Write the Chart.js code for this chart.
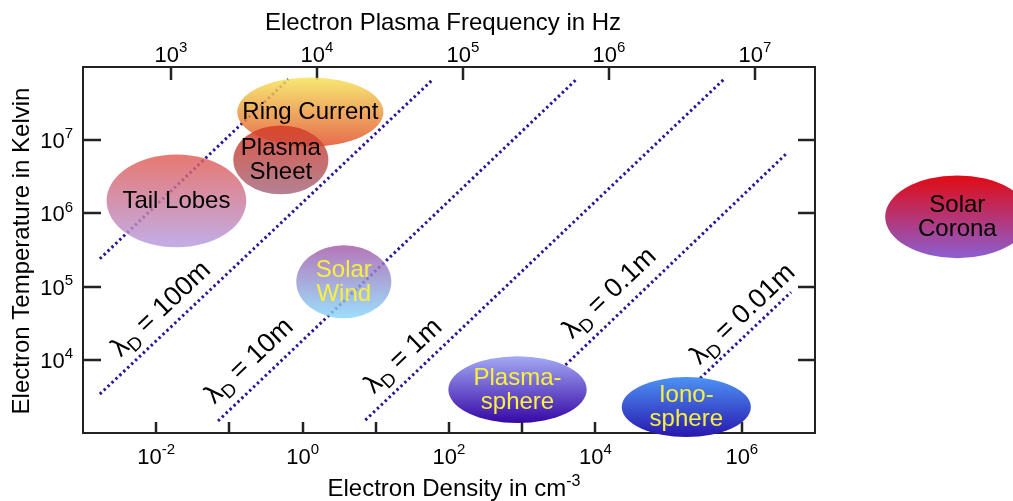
<!DOCTYPE html>
<html>
<head>
<meta charset="utf-8">
<script src="https://cdn.jsdelivr.net/npm/chart.js@4.4.0/dist/chart.umd.min.js"></script>
<style>
  html, body { margin: 0; padding: 0; background: #fff; }
  #wrap { width: 1013px; height: 501px; }
</style>
</head>
<body>
<div id="wrap"><canvas id="plasmaChart" width="1013" height="501"></canvas></div>
<script>
// ---- axis ranges / ticks ----
const densityRange = [1e-3, 1e7];          // cm^-3
const tempRange = [1e3, 1e8];              // K
const freqRange = [250, 2.58e7];           // Hz (top axis)
const densityTicks = [1e-2, 1e-1, 1e0, 1e1, 1e2, 1e3, 1e4, 1e5, 1e6];
const densityLabels = ['-2', '0', '2', '4', '6'];
const tempTicks = [1e4, 1e5, 1e6, 1e7];
const tempLabels = ['4', '5', '6', '7'];
const freqTicks = [1e3, 1e4, 1e5, 1e6, 1e7];
const freqLabels = ['3', '4', '5', '6', '7'];

// ---- Debye length lines (endpoints) ----
const lineStartDensity = [1.7e-3, 1.7e-3, 0.070, 7.2, 3.9e3, 2.7e5];
const lineStartTemp    = [2.4e5, 3.4e3, 1.46e3, 1.5e3, 8.5e3, 5.6e3];
const lineEndDensity   = [0.64, 57.7, 5.7e3, 5.7e5, 4.1e6, 4.7e6];
const lineEndTemp      = [6.8e7, 6.5e7, 7.0e7, 6.8e7, 6.6e6, 8.4e4];

// ---- line labels ----
const lambdaLabels = ['100m', '10m', '1m', '0.1m', '0.01m'];
const lambdaLine = [1, 2, 3, 4, 5];
const labelDensity = [1.13e-2, 0.181, 23.1, 1.52e4, 1.0e6];
const labelTemp = [5.07e4, 9.9e3, 1.16e4, 8.4e4, 4.34e4];

// ---- plasma regions ----
const regionNames = ['Tail Lobes', 'Ring Current', 'Plasma\nSheet', 'Solar\nWind', 'Plasma-\nsphere', 'Iono-\nsphere', 'Solar\nCorona'];
const densityMin = [2.1e-3, 0.128, 0.113, 0.82, 98, 2.29e4, 9.1e7];
const densityMax = [0.17, 12.7, 2.25, 16.3, 7.6e3, 1.33e6, 8.5e9];
const tempMin = [3.44e5, 8.2e6, 1.82e6, 3.7e4, 1.37e3, 880, 2.44e5];
const tempMax = [6.4e6, 7.2e7, 1.59e7, 3.67e5, 1.12e4, 5.8e3, 3.3e6];

const regionTop    = ['#e25b52', '#f6e45a', '#d83a22', '#a459a9', '#a3aaf4', '#4d92f4', '#e10a12'];
const regionBottom = ['#b49be2', '#e3522e', '#a66b82', '#86d6fa', '#3607a6', '#2817ae', '#8b5fd2'];
const regionAlpha  = [0.82, 0.85, 0.85, 0.82, 1, 1, 1];
const regionText   = ['#000', '#000', '#000', '#f8f040', '#f8f040', '#f8f040', '#000'];

const FONT = '"Liberation Sans", Arial, Helvetica, sans-serif';

// draws a run of text pieces [{t, size, rise}] at x,y
function drawRich(ctx, segs, x, y, align, rot) {
    ctx.save();
    ctx.translate(x, y);
    ctx.rotate(rot || 0);
    let w = 0;
    segs.forEach(s => { ctx.font = s.size + 'px ' + FONT; s.w = ctx.measureText(s.t).width; w += s.w; });
    let cx = align === 'center' ? -w / 2 : align === 'right' ? -w : 0;
    ctx.textAlign = 'left';
    ctx.textBaseline = 'alphabetic';
    segs.forEach(s => {
        ctx.font = s.size + 'px ' + FONT;
        ctx.fillText(s.t, cx, -(s.rise || 0));
        cx += s.w;
    });
    ctx.restore();
}

function pow10(exp, size) {
    return [{ t: '10', size: size }, { t: exp, size: Math.round(size * 0.7), rise: size * 0.45 }];
}

const plasmaPlugin = {
    id: 'plasmaDecor',
    afterDatasetsDraw(chart) {
        const ctx = chart.ctx;
        const a = chart.chartArea;
        const xs = chart.scales.x, ys = chart.scales.y, fs = chart.scales.x2;

        // frame
        ctx.save();
        ctx.strokeStyle = '#222';
        ctx.lineWidth = 2;
        ctx.strokeRect(a.left, a.top, a.right - a.left, a.bottom - a.top);

        // ticks
        ctx.lineWidth = 2.5;
        ctx.beginPath();
        densityTicks.forEach(v => {
            const px = Math.round(xs.getPixelForValue(v));
            ctx.moveTo(px, a.bottom); ctx.lineTo(px, a.bottom - 11);
        });
        freqTicks.forEach(v => {
            const px = Math.round(fs.getPixelForValue(v));
            ctx.moveTo(px, a.top); ctx.lineTo(px, a.top + 13);
        });
        tempTicks.forEach(v => {
            const py = Math.round(ys.getPixelForValue(v));
            ctx.moveTo(a.left, py); ctx.lineTo(a.left + 18, py);
            ctx.moveTo(a.right, py); ctx.lineTo(a.right - 17, py);
        });
        ctx.stroke();

        // tick labels
        ctx.fillStyle = '#000';
        densityLabels.forEach(e => {
            drawRich(ctx, pow10(e, 22), xs.getPixelForValue(Math.pow(10, +e)), a.bottom + 31, 'center');
        });
        freqLabels.forEach((e, i) => {
            drawRich(ctx, pow10(e, 22), fs.getPixelForValue(freqTicks[i]), a.top - 5, 'center');
        });
        tempLabels.forEach((e, i) => {
            drawRich(ctx, pow10(e, 22), a.left - 10, ys.getPixelForValue(tempTicks[i]) + 8, 'right');
        });

        // axis titles
        drawRich(ctx, [{ t: 'Electron Plasma Frequency in Hz', size: 24 }], 443, 30, 'center');
        drawRich(ctx, [{ t: 'Electron Density in cm', size: 24 }, { t: '-3', size: 16, rise: 10 }], 454, 496, 'center');
        drawRich(ctx, [{ t: 'Electron Temperature in Kelvin', size: 24 }], 29, 251, 'center', -Math.PI / 2);

        // Debye labels, parallel to their lines
        lambdaLabels.forEach((lab, i) => {
            const li = lambdaLine[i];
            const x1 = xs.getPixelForValue(lineStartDensity[li]), y1 = ys.getPixelForValue(lineStartTemp[li]);
            const x2 = xs.getPixelForValue(lineEndDensity[li]), y2 = ys.getPixelForValue(lineEndTemp[li]);
            const rot = Math.atan2(y2 - y1, x2 - x1);
            const px = xs.getPixelForValue(labelDensity[i]), py = ys.getPixelForValue(labelTemp[i]);
            drawRich(ctx, [{ t: '\u03bb', size: 27 }, { t: 'D', size: 19, rise: -6 }, { t: ' = ' + lab, size: 27 }],
                px + 9 * Math.sin(-rot), py + 9 * Math.cos(rot), 'center', rot);
        });

        // regions
        regionNames.forEach((name, i) => {
            const x1 = xs.getPixelForValue(densityMin[i]), x2 = xs.getPixelForValue(densityMax[i]);
            const y1 = ys.getPixelForValue(tempMax[i]), y2 = ys.getPixelForValue(tempMin[i]);
            const cx = (x1 + x2) / 2, cy = (y1 + y2) / 2;
            const g = ctx.createLinearGradient(0, y1, 0, y2);
            g.addColorStop(0, regionTop[i]);
            g.addColorStop(1, regionBottom[i]);
            ctx.globalAlpha = regionAlpha[i];
            ctx.fillStyle = g;
            ctx.beginPath();
            ctx.ellipse(cx, cy, (x2 - x1) / 2, (y2 - y1) / 2, 0, 0, Math.PI * 2);
            ctx.fill();
            ctx.globalAlpha = 1;
            ctx.fillStyle = regionText[i];
            const lines = name.split('\n');
            const lh = 24;
            lines.forEach((ln, k) => {
                const ty = cy + 7 + (k - (lines.length - 1) / 2) * lh;
                drawRich(ctx, [{ t: ln, size: 24 }], cx, ty, 'center');
            });
        });
        ctx.restore();
    }
};

const datasets = lineStartDensity.map((n, i) => ({
    label: 'line' + i,
    data: [{ x: n, y: lineStartTemp[i] }, { x: lineEndDensity[i], y: lineEndTemp[i] }],
    showLine: true,
    borderColor: '#2a1496',
    borderWidth: 3,
    borderDash: [2.4, 3],
    pointRadius: 0,
    fill: false
}));

new Chart(document.getElementById('plasmaChart').getContext('2d'), {
    type: 'scatter',
    data: { datasets: datasets },
    options: {
        responsive: false,
        animation: false,
        layout: { padding: { left: 83, top: 67, right: 198, bottom: 68 } },
        plugins: { legend: { display: false }, tooltip: { enabled: false } },
        scales: {
            x: { type: 'logarithmic', position: 'bottom', min: densityRange[0], max: densityRange[1], display: false },
            x2: { type: 'logarithmic', position: 'top', axis: 'x', min: freqRange[0], max: freqRange[1], display: false },
            y: { type: 'logarithmic', position: 'left', min: tempRange[0], max: tempRange[1], display: false }
        }
    },
    plugins: [plasmaPlugin]
});
</script>
</body>
</html>
